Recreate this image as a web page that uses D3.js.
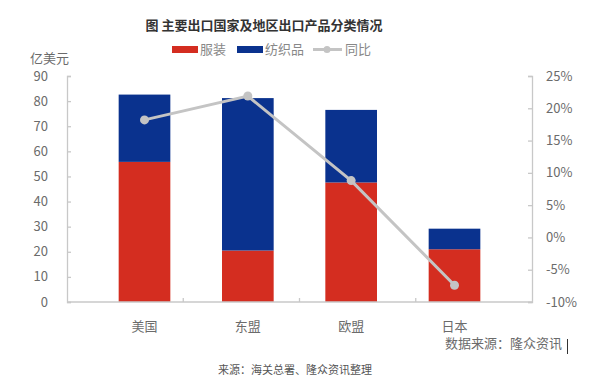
<!DOCTYPE html>
<html>
<head>
<meta charset="utf-8">
<script src="https://cdn.jsdelivr.net/npm/d3@7"></script>
<style>
  body { margin: 0; background: #fff; }
  svg { font-family: "Noto Sans CJK SC", "Noto Sans", sans-serif; }
</style>
</head>
<body>
<svg width="600" height="388"></svg>
<script>
// data
const regions = ["美国", "东盟", "欧盟", "日本"];
const apparel = [55.8, 20.5, 47.6, 21.0];   // 服装
const textiles = [26.8, 60.7, 28.9, 8.2];   // 纺织品
const yoy = [18.2, 21.9, 8.8, -7.4];        // 同比 %
const leftTicks = [0, 10, 20, 30, 40, 50, 60, 70, 80, 90];
const rightTicks = [-10, -5, 0, 5, 10, 15, 20, 25];

const red = "#d42d20", blue = "#0a328e", grey = "#c4c4c4", axisCol = "#c8c8c8", txt = "#6b6b6b";

const svg = d3.select("svg");
const plotL = 67, plotR = 532, plotT = 76, plotB = 302;

const x = d3.scaleBand().domain(regions).range([plotL, plotR]).padding(0.5);
const xBand = d3.scaleBand().domain(regions).range([plotL, plotR]);
const y = d3.scaleLinear().domain([0, 90]).range([plotB, plotT]);
const y2 = d3.scaleLinear().domain([-10, 25]).range([plotB, plotT]);

// title
svg.append("text").attr("x", 264).attr("y", 30).attr("text-anchor", "middle")
  .attr("font-size", 13).attr("font-weight", "bold").attr("fill", "#333")
  .text("图 主要出口国家及地区出口产品分类情况");

// legend
const lg = svg.append("g").attr("font-size", 13).attr("fill", "#888");
lg.append("rect").attr("x", 172).attr("y", 46).attr("width", 26).attr("height", 7).attr("fill", red);
lg.append("text").attr("x", 200).attr("y", 54).text("服装");
lg.append("rect").attr("x", 237).attr("y", 46).attr("width", 26).attr("height", 7).attr("fill", blue);
lg.append("text").attr("x", 265).attr("y", 54).text("纺织品");
lg.append("line").attr("x1", 313).attr("x2", 342).attr("y1", 49.5).attr("y2", 49.5)
  .attr("stroke", grey).attr("stroke-width", 3);
lg.append("circle").attr("cx", 327).attr("cy", 49.5).attr("r", 3.5).attr("fill", grey);
lg.append("text").attr("x", 345).attr("y", 54).text("同比");

// unit
svg.append("text").attr("x", 30).attr("y", 63).attr("font-size", 13).attr("fill", txt).text("亿美元");

// bars
const stackData = regions.map((r, i) => ({ r: r, a: apparel[i], t: textiles[i] }));
const g = svg.append("g");
g.selectAll(".app").data(stackData).enter().append("rect")
  .attr("x", d => x(d.r)).attr("width", x.bandwidth())
  .attr("y", d => y(d.a)).attr("height", d => y(0) - y(d.a))
  .attr("fill", red);
g.selectAll(".tex").data(stackData).enter().append("rect")
  .attr("x", d => x(d.r)).attr("width", x.bandwidth())
  .attr("y", d => y(d.a + d.t)).attr("height", d => y(d.a) - y(d.a + d.t))
  .attr("fill", blue);

// axes
const leftAxis = svg.append("g").attr("transform", `translate(${plotL},0)`)
  .call(d3.axisRight(y).tickValues(leftTicks).tickSize(4).tickFormat(""));
const rightAxis = svg.append("g").attr("transform", `translate(${plotR},0)`)
  .call(d3.axisLeft(y2).tickValues(rightTicks).tickSize(4).tickFormat(""));
[leftAxis, rightAxis].forEach(a => {
  a.selectAll("path,line").attr("stroke", axisCol).attr("stroke-width", 1.3);
});

svg.append("g").selectAll("text").data(leftTicks).enter().append("text")
  .attr("x", 48).attr("y", d => y(d)).attr("dy", "0.35em").attr("text-anchor", "end")
  .attr("font-size", 13).attr("fill", txt).text(d => d);
svg.append("g").selectAll("text").data(rightTicks).enter().append("text")
  .attr("x", 546).attr("y", d => y2(d)).attr("dy", "0.35em")
  .attr("font-size", 13).attr("fill", txt).text(d => d + "%");

// bottom baseline with ticks between categories
svg.append("line").attr("x1", plotL).attr("x2", plotR).attr("y1", plotB).attr("y2", plotB)
  .attr("stroke", axisCol).attr("stroke-width", 1.3);
svg.append("g").selectAll("line").data(regions.slice(1)).enter().append("line")
  .attr("x1", d => xBand(d)).attr("x2", d => xBand(d))
  .attr("y1", plotB).attr("y2", plotB - 4)
  .attr("stroke", axisCol).attr("stroke-width", 1.3);

svg.append("g").selectAll("text").data(regions).enter().append("text")
  .attr("x", d => x(d) + x.bandwidth() / 2).attr("y", 331).attr("text-anchor", "middle")
  .attr("font-size", 13).attr("fill", txt).text(d => d);

// yoy line
const pts = regions.map((r, i) => [x(r) + x.bandwidth() / 2, y2(yoy[i])]);
svg.append("path").attr("d", d3.line()(pts)).attr("fill", "none")
  .attr("stroke", grey).attr("stroke-width", 3);
svg.append("g").selectAll("circle").data(pts).enter().append("circle")
  .attr("cx", d => d[0]).attr("cy", d => d[1]).attr("r", 4.5).attr("fill", grey);

// sources
svg.append("text").attr("x", 445).attr("y", 348).attr("font-size", 13).attr("fill", txt)
  .text("数据来源：隆众资讯");
svg.append("line").attr("x1", 567.5).attr("x2", 567.5).attr("y1", 339).attr("y2", 354)
  .attr("stroke", "#333").attr("stroke-width", 1);
svg.append("text").attr("x", 295).attr("y", 374).attr("text-anchor", "middle")
  .attr("font-size", 11).attr("fill", "#555").text("来源：海关总署、隆众资讯整理");
</script>
</body>
</html>
